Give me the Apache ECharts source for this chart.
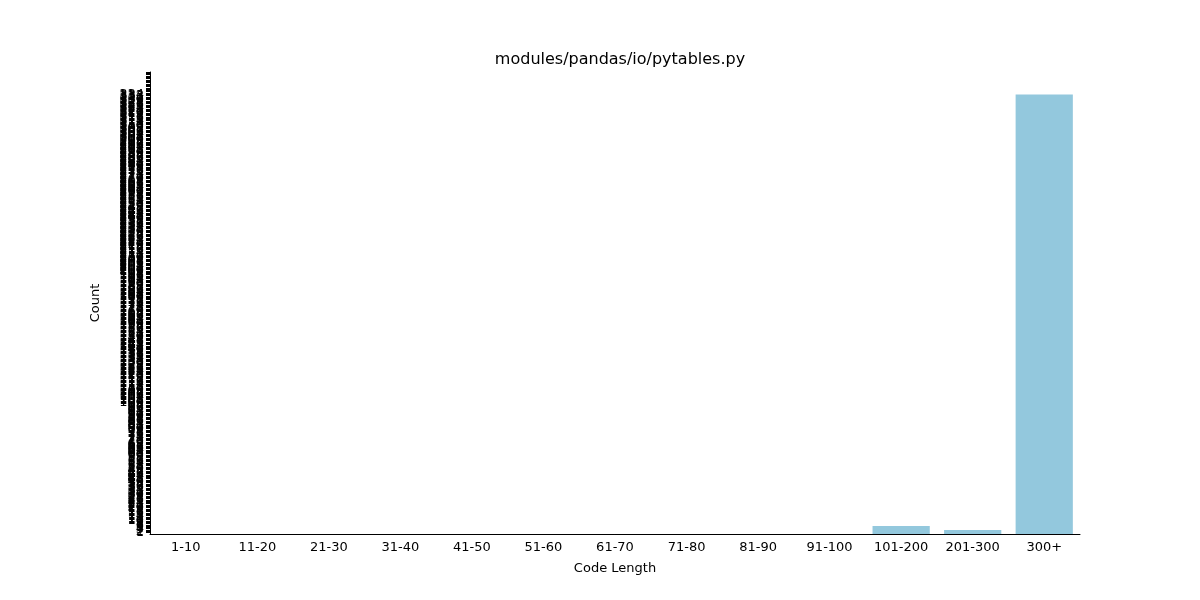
<!DOCTYPE html>
<html>
<head>
<meta charset="utf-8">
<script src="https://cdn.jsdelivr.net/npm/echarts@6/dist/echarts.min.js"></script>
<style>html,body{margin:0;padding:0;background:#fff}#main{width:1200px;height:600px}</style>
</head>
<body>
<div id="main"></div>
<script>
var categories = ['1-10', '11-20', '21-30', '31-40', '41-50', '51-60', '61-70', '71-80', '81-90', '91-100', '101-200', '201-300', '300+'];
var counts = [0, 0, 0, 0, 0, 0, 0, 0, 0, 0, 6, 3, 334];
var maxCount = 334;

var chart = echarts.init(document.getElementById('main'));
chart.setOption({
    animation: false,
    title: {
        text: 'modules/pandas/io/pytables.py',
        left: 615, top: 47, textAlign: 'center',
        textStyle: { fontFamily: 'DejaVu Sans', fontSize: 16, fontWeight: 'normal', color: '#000' }
    },
    grid: { left: 150, right: 120, top: 72, bottom: 66 },
    xAxis: {
        type: 'category',
        data: categories,
        name: 'Code Length', nameLocation: 'middle', nameGap: 28,
        nameTextStyle: { fontFamily: 'DejaVu Sans', fontSize: 13, color: '#000' },
        axisLine: { lineStyle: { color: '#000' } },
        axisTick: { alignWithLabel: true, length: 4, lineStyle: { color: '#000' } },
        axisLabel: { fontFamily: 'DejaVu Sans', fontSize: 13, color: '#000', margin: 7 }
    },
    yAxis: {
        type: 'value',
        min: 0, max: Math.round(maxCount * 1.05), interval: 1,
        name: 'Count', nameLocation: 'middle', nameGap: 48,
        nameTextStyle: { fontFamily: 'DejaVu Sans', fontSize: 13, color: '#000' },
        splitLine: { show: false },
        axisLine: { show: true, lineStyle: { color: '#000' } },
        axisTick: { show: true, length: 4, lineStyle: { color: '#000' } },
        axisLabel: {
            fontFamily: 'DejaVu Sans', fontSize: 13, color: '#000', margin: 6,
            formatter: function (v) { return v <= maxCount ? String(v) : ''; }
        }
    },
    series: [{
        type: 'bar',
        data: counts,
        barCategoryGap: '20%',
        itemStyle: { color: '#93c8dd' }
    }]
});
</script>
</body>
</html>
